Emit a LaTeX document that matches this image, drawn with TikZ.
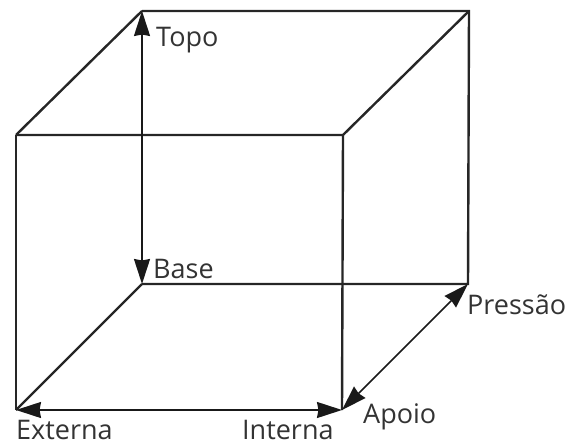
\documentclass[tikz,border=0pt]{standalone}
\usepackage{fontspec}
\setmainfont{Open Sans}
\usetikzlibrary{arrows.meta}
\tikzset{
  edge/.style={line width=2.4pt,draw=black!85},
  dim/.style={line width=1.7pt,draw=black!90,{Stealth[length=25pt,width=16pt,inset=1.5pt]}-{Stealth[length=25pt,width=16pt,inset=1.5pt]}},
  lab/.style={anchor=base west,inner sep=0pt,font=\fontsize{27}{30}\selectfont,text=black!80}
}
\begin{document}
\begin{tikzpicture}[x=1pt,y=-1pt]
\useasboundingbox (0,0) rectangle (572,443);
\coordinate (ftl) at (16,135);
\coordinate (ftr) at (343,135);
\coordinate (fbr) at (342,410);
\coordinate (fbl) at (16,410);
\coordinate (btl) at (142,11);
\coordinate (btr) at (469,11);
\coordinate (bbr) at (468,284);
\coordinate (bbl) at (142,284);
\draw[edge,line join=miter] (ftl) -- (ftr) -- (fbr);
\draw[edge] (ftl) -- (fbl);
\draw[edge] (btl) -- (btr) -- (bbr) -- (bbl);
\draw[edge] (ftl) -- (btl);
\draw[edge] (ftr) -- (btr);
\draw[edge] (fbl) -- (bbl);
\draw[dim] (bbl) -- (btl);
\draw[dim] (fbl) -- (fbr);
\draw[dim] (fbr) -- (bbr);
\node[lab] (topo) at (156,47) {Topo};
\node[lab] (base) at (153,279) {Base};
\node[lab] (externa) at (16,439.5) {Externa};
\node[lab] (interna) at (242,439.5) {Interna};
\node[lab] (apoio) at (363,423) {Apoio};
\node[lab] (pressao) at (467,314) {Pressão};
\end{tikzpicture}
\end{document}
